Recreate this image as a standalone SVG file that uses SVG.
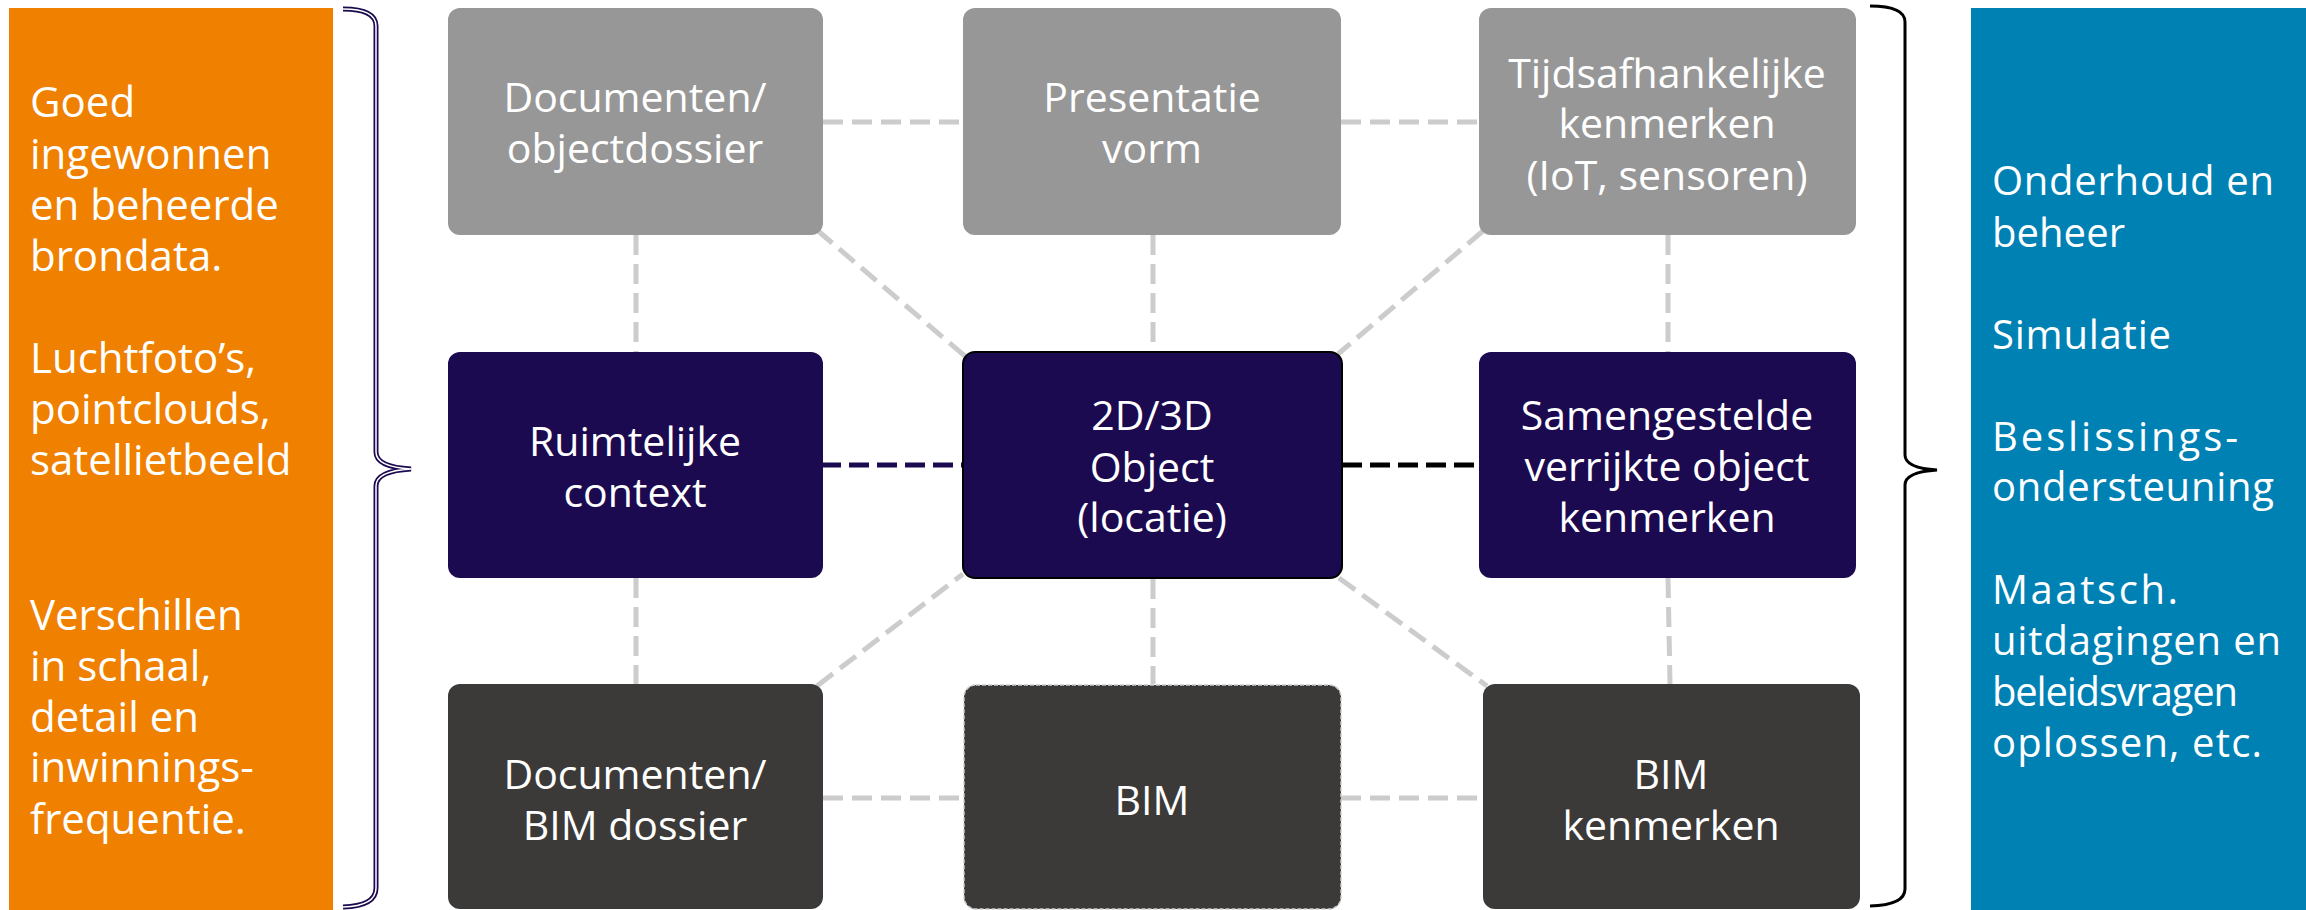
<svg xmlns="http://www.w3.org/2000/svg" width="2306" height="910" viewBox="0 0 2306 910">
<style>
.t{font-family:"Open Sans","Noto Sans","Liberation Sans",sans-serif;fill:#ffffff;}
.side{font-size:42px;}
.node{font-size:41px;text-anchor:middle;}
.blue{font-size:40px;}
.gray{fill:#979797;}
.navy{fill:#1c0a50;}
.dark{fill:#3b3a38;}
.con{stroke:#cccccc;stroke-width:5;stroke-dasharray:20 9;fill:none;}
</style>
<rect width="2306" height="910" fill="#ffffff"/>
<g id="left-panel">
<rect x="9" y="8" width="324" height="902" fill="#f08000"/>
<text class="t side" x="30"><tspan x="30" y="117">Goed</tspan><tspan x="30" y="169">ingewonnen</tspan><tspan x="30" y="220">en beheerde</tspan><tspan x="30" y="271">brondata.</tspan><tspan x="30" y="373">Luchtfoto’s,</tspan><tspan x="30" y="424">pointclouds,</tspan><tspan x="30" y="475">satellietbeeld</tspan><tspan x="30" y="630">Verschillen</tspan><tspan x="30" y="681">in schaal,</tspan><tspan x="30" y="732">detail en</tspan><tspan x="30" y="782">inwinnings-</tspan><tspan x="30" y="834">frequentie.</tspan></text>
</g>
<g id="left-brace">
<path d="M343,9 Q376,9 376,26 L376,452 Q376,467 411,469 Q376,471 376,486 L376,888 Q376,906 343,907" fill="none" stroke="#1c0a50" stroke-width="5"/>
<path d="M343,9 Q376,9 376,26 L376,452 Q376,467 411,469 Q376,471 376,486 L376,888 Q376,906 343,907" fill="none" stroke="#ffffff" stroke-width="1.5"/>
</g>
<g id="connectors">
<line class="con" x1="823" y1="122" x2="963" y2="122"/>
<line class="con" x1="1341" y1="122" x2="1479" y2="122"/>
<line class="con" x1="636" y1="235" x2="636" y2="352"/>
<line class="con" x1="1153" y1="235" x2="1153" y2="351"/>
<line class="con" x1="1668" y1="235" x2="1668" y2="352"/>
<line class="con" x1="817" y1="230" x2="966" y2="357"/>
<line class="con" x1="1483" y1="231" x2="1338" y2="354"/>
<line class="con" x1="817" y1="686" x2="963" y2="574"/>
<line class="con" x1="1339" y1="578" x2="1487" y2="686"/>
<line class="con" x1="1153" y1="579" x2="1153" y2="684"/>
<line class="con" x1="636" y1="578" x2="636" y2="684"/>
<line class="con" x1="1668" y1="578" x2="1670" y2="684"/>
<line class="con" x1="823" y1="798" x2="963" y2="798"/>
<line class="con" x1="1341" y1="798" x2="1483" y2="798"/>
<line x1="821" y1="465" x2="963" y2="465" stroke="#1c0a50" stroke-width="5" stroke-dasharray="20 8"/>
<line x1="1342" y1="465" x2="1479" y2="465" stroke="#000000" stroke-width="5" stroke-dasharray="20 8"/>
</g>
<g id="node-documenten-object">
<rect class="gray" x="448" y="8" width="375" height="227" rx="12"/>
<text class="t node"><tspan x="635" y="112">Documenten/</tspan><tspan x="635" y="163">objectdossier</tspan></text>
</g>
<g id="node-presentatie">
<rect class="gray" x="963" y="8" width="378" height="227" rx="12"/>
<text class="t node"><tspan x="1152" y="112">Presentatie</tspan><tspan x="1152" y="163">vorm</tspan></text>
</g>
<g id="node-tijds">
<rect class="gray" x="1479" y="8" width="377" height="227" rx="12"/>
<text class="t node"><tspan x="1667" y="88">Tijdsafhankelijke</tspan><tspan x="1667" y="138">kenmerken</tspan><tspan x="1667" y="190">(IoT, sensoren)</tspan></text>
</g>
<g id="node-ruimtelijke">
<rect class="navy" x="448" y="352" width="375" height="226" rx="12"/>
<text class="t node"><tspan x="635" y="456">Ruimtelijke</tspan><tspan x="635" y="507">context</tspan></text>
</g>
<g id="node-object">
<rect class="navy" x="963" y="352" width="379" height="226" rx="12" stroke="#000000" stroke-width="2"/>
<text class="t node"><tspan x="1152" y="430">2D/3D</tspan><tspan x="1152" y="482">Object</tspan><tspan x="1152" y="532">(locatie)</tspan></text>
</g>
<g id="node-samengestelde">
<rect class="navy" x="1479" y="352" width="377" height="226" rx="12"/>
<text class="t node"><tspan x="1667" y="430">Samengestelde</tspan><tspan x="1667" y="481">verrijkte object</tspan><tspan x="1667" y="532">kenmerken</tspan></text>
</g>
<g id="node-documenten-bim">
<rect class="dark" x="448" y="684" width="375" height="225" rx="12"/>
<text class="t node"><tspan x="635" y="789">Documenten/</tspan><tspan x="635" y="840">BIM dossier</tspan></text>
</g>
<g id="node-bim">
<rect class="dark" x="964" y="685" width="377" height="224" rx="12" stroke="#cccccc" stroke-width="1.5" stroke-dasharray="4 2"/>
<text class="t node" x="1152" y="815">BIM</text>
</g>
<g id="node-bim-kenmerken">
<rect class="dark" x="1483" y="684" width="377" height="225" rx="12"/>
<text class="t node"><tspan x="1671" y="789">BIM</tspan><tspan x="1671" y="840">kenmerken</tspan></text>
</g>
<g id="right-brace">
<path d="M1870,6 Q1905,6 1905,22 L1905,455 Q1905,468 1937,470 Q1905,472 1905,485 L1905,889 Q1905,905 1870,906" fill="none" stroke="#000000" stroke-width="3"/>
</g>
<g id="right-panel">
<rect x="1971" y="8" width="335" height="902" fill="#0081b4"/>
<text class="t blue"><tspan x="1992" y="195" textLength="282" lengthAdjust="spacing">Onderhoud en</tspan><tspan x="1992" y="247" textLength="133" lengthAdjust="spacing">beheer</tspan><tspan x="1992" y="349" textLength="179" lengthAdjust="spacing">Simulatie</tspan><tspan x="1992" y="451" textLength="246" lengthAdjust="spacing">Beslissings-</tspan><tspan x="1992" y="501" textLength="282" lengthAdjust="spacing">ondersteuning</tspan><tspan x="1992" y="604" textLength="186" lengthAdjust="spacing">Maatsch.</tspan><tspan x="1992" y="655" textLength="289" lengthAdjust="spacing">uitdagingen en</tspan><tspan x="1992" y="706" textLength="246" lengthAdjust="spacing">beleidsvragen</tspan><tspan x="1992" y="757" textLength="270" lengthAdjust="spacing">oplossen, etc.</tspan></text>
</g>
</svg>
